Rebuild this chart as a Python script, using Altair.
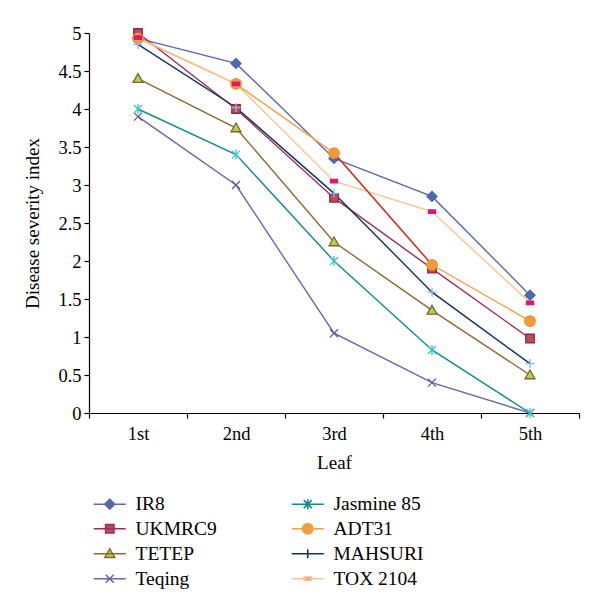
import altair as alt
import pandas as pd

leaves = ["1st", "2nd", "3rd", "4th", "5th"]
series = ["IR8", "UKMRC9", "TETEP", "Teqing", "Jasmine 85", "ADT31", "MAHSURI", "TOX 2104"]

ir8 = [4.93, 4.60, 3.35, 2.85, 1.55]
ukmrc9 = [5.00, 4.00, 2.83, 1.90, 0.98]
tetep = [4.40, 3.75, 2.25, 1.35, 0.50]
teqing = [3.90, 3.00, 1.05, 0.40, 0.00]
jasmine85 = [4.00, 3.40, 2.00, 0.83, 0.00]
adt31 = [4.93, 4.33, 3.42, 1.95, 1.21]
mahsuri = [4.85, 4.02, 2.89, 1.59, 0.65]
tox2104 = [4.94, 4.33, 3.05, 2.65, 1.45]

values = [ir8, ukmrc9, tetep, teqing, jasmine85, adt31, mahsuri, tox2104]

line_colors = ["#5A6BA6", "#9E2D55", "#8A6A35", "#6E64A8", "#13898B", "#F5A045", "#12305F", "#FAC48E"]
marker_strokes = ["#4A63A8", "#8E2A45", "#7D6430", "#5E5AA0", "#3CC8D0", "#F09030", "#8DB4E2", "#E0157A"]
marker_fills = ["#4F6BB0", "#BE4B55", "#B5CF4F", "#5E5AA0", "#3CC8D0", "#F39A3A", "#8DB4E2", "#E0157A"]
marker_paths = [
    "M0,-1L1,0L0,1L-1,0Z",
    "M-0.85,-0.85H0.85V0.85H-0.85Z",
    "M0,-1L1,0.75H-1Z",
    "M-0.8,-0.8L0.8,0.8M-0.8,0.8L0.8,-0.8",
    "M-0.8,-0.8L0.8,0.8M-0.8,0.8L0.8,-0.8M0,-1V1",
    "M1.05,0A1.05,1.05,0,1,1,-1.05,0A1.05,1.05,0,1,1,1.05,0Z",
    "M-0.9,0H0.9M0,-0.9V0.9",
    "M-0.7,-0.35H0.7V0.35H-0.7Z",
]
legend_paths = ["M-3.2,0H3.2" + p for p in marker_paths]

rows = []
for s, vals in zip(series, values):
    for leaf, v in zip(leaves, vals):
        rows.append({"series": s, "leaf": leaf, "value": v})
df = pd.DataFrame(rows)

FONT = "Liberation Serif"

x_enc = alt.X("leaf:N", sort=leaves,
              scale=alt.Scale(type="band", paddingInner=0, paddingOuter=0),
              axis=alt.Axis(title="Leaf", tickBand="extent", labelAngle=0,
                            labelPadding=6, titlePadding=11))
y_enc = alt.Y("value:Q", scale=alt.Scale(domain=[0, 5], nice=False),
              axis=alt.Axis(title="Disease severity index", values=[i * 0.5 for i in range(11)],
                            format="~g", labelPadding=3, titlePadding=15))

base = alt.Chart(df)

lines = base.mark_line(strokeWidth=1.4).encode(
    x=x_enc, y=y_enc,
    stroke=alt.Stroke("series:N", scale=alt.Scale(domain=series, range=line_colors), legend=None),
    detail="series:N",
)

red_seg = base.transform_filter(
    (alt.datum.series == "ADT31") & ((alt.datum.leaf == "3rd") | (alt.datum.leaf == "4th"))
).mark_line(strokeWidth=1.4, stroke="#D7262E").encode(x=x_enc, y=y_enc)

points = base.mark_point(filled=True, size=100, strokeWidth=1.3, opacity=1).encode(
    x=x_enc, y=y_enc,
    shape=alt.Shape("series:N", scale=alt.Scale(domain=series, range=marker_paths), legend=None),
    fill=alt.Fill("series:N", scale=alt.Scale(domain=series, range=marker_fills), legend=None),
    stroke=alt.Stroke("series:N", scale=alt.Scale(domain=series, range=marker_strokes), legend=None),
)

leg = alt.Legend(title=None, labelFont=FONT, labelFontSize=19.5, labelColor="black")

legend_layer = base.transform_filter("false").mark_point(filled=True, size=100, strokeWidth=1.5, opacity=1).encode(
    x=x_enc, y=y_enc,
    shape=alt.Shape("series:N", scale=alt.Scale(domain=series, range=legend_paths), legend=leg),
    fill=alt.Fill("series:N", scale=alt.Scale(domain=series, range=marker_fills), legend=leg),
    stroke=alt.Stroke("series:N", scale=alt.Scale(domain=series, range=line_colors), legend=leg),
)

chart = alt.layer(lines, red_seg, points, legend_layer).resolve_scale(
    stroke="independent", fill="independent", shape="independent"
).properties(
    width=490, height=380,
    autosize=alt.AutoSizeParams(type="none"),
    padding={"left": 81, "top": 25, "right": 13, "bottom": 190},
).configure(font=FONT).configure_view(stroke=None).configure_axis(
    domainColor="black", tickColor="black", domainWidth=1.2, tickWidth=1.2, tickSize=5,
    labelFont=FONT, labelFontSize=18.5, labelColor="black",
    titleFont=FONT, titleFontSize=19, titleFontWeight="normal", titleColor="black",
    grid=False,
).configure_legend(
    orient="none", legendX=11, legendY=461, columns=2, columnPadding=71,
    rowPadding=4, labelFont=FONT, labelFontSize=19.5, labelColor="black",
    labelOffset=16, symbolStrokeWidth=1.5, direction="vertical",
)

chart.save("out.html", embed_options={"renderer": "svg", "actions": False})
